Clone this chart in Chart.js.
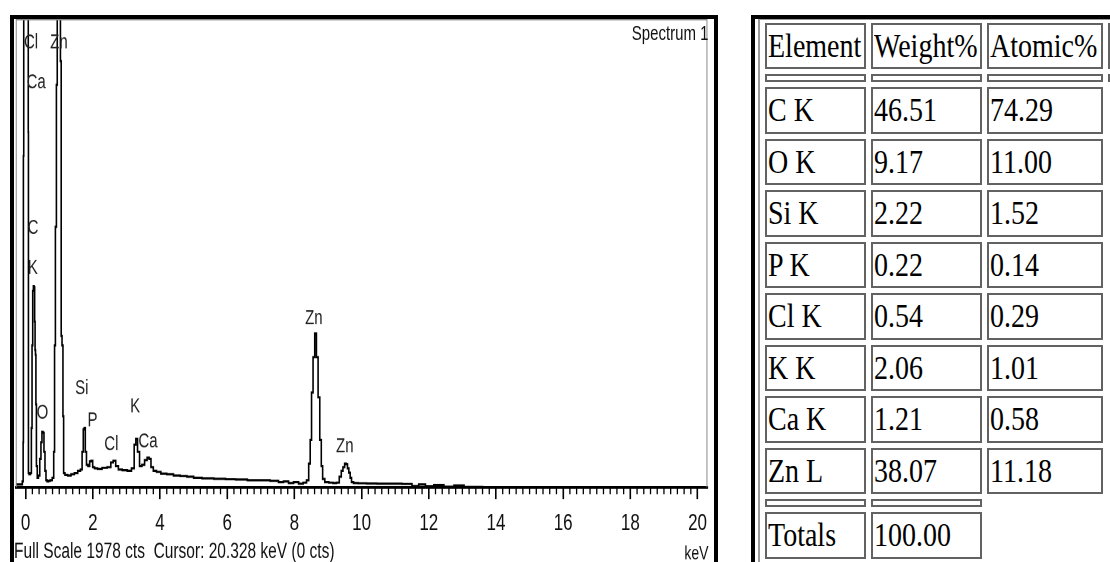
<!DOCTYPE html>
<html><head><meta charset="utf-8">
<script src="https://cdn.jsdelivr.net/npm/chart.js@4.4.1/dist/chart.umd.min.js"></script>
<style>
html,body{margin:0;padding:0;background:#fff;}
body{width:1110px;height:562px;overflow:hidden;position:relative;}
#specFrame{position:absolute;left:10px;top:15px;width:700px;height:600px;border:4px solid #000;}
#chartWrap{position:absolute;left:14px;top:19px;width:700px;height:388px;transform:scaleY(1.4);transform-origin:0 0;}
#tblFrame{position:absolute;left:751px;top:15px;width:500px;height:600px;border-left:4px solid #000;border-top:4px solid #000;}
#tblInner{position:absolute;left:758px;top:19px;width:500px;height:600px;border-left:2px solid #9a9a9a;border-top:1.5px solid #9a9a9a;}
#tbl{position:absolute;left:760px;top:18px;border-collapse:separate;border-spacing:5px;table-layout:fixed;width:413px;font-family:"Liberation Serif","Times New Roman",serif;font-size:28px;color:#000;}
#tbl td{box-sizing:border-box;border:2px solid #626262;padding:0 0 0 1px;vertical-align:middle;white-space:nowrap;overflow:hidden;line-height:28px;}
#tbl td.sp{padding:0;font-size:0;line-height:0;}
#tbl td span{display:inline-block;transform:scaleY(1.24);}
</style></head>
<body>
<div id="specFrame"></div>
<div id="chartWrap"><canvas id="c" width="700" height="388"></canvas></div>
<div id="tblInner"></div>
<div id="tblFrame"></div>
<table id="tbl"></table>
<script>
// ---------- spectrum data (keV, counts) ----------
const energyKeV = [
  -0.29, -0.12, -0.08, -0.07, -0.065, -0.05, 0.0, 0.05, 0.075, 0.08,
  0.085, 0.12, 0.16, 0.18, 0.2, 0.22, 0.24, 0.26, 0.275, 0.285,
  0.3, 0.31, 0.33, 0.36, 0.4, 0.44, 0.47, 0.5, 0.53, 0.56,
  0.59, 0.62, 0.66, 0.7, 0.76, 0.82, 0.85, 0.87, 0.9, 0.93,
  0.95, 0.98, 1.02, 1.05, 1.065, 1.1, 1.12, 1.14, 1.2, 1.3,
  1.4, 1.5, 1.6, 1.66, 1.7, 1.73, 1.76, 1.79, 1.83, 1.88,
  1.93, 1.97, 2.02, 2.08, 2.2, 2.35, 2.5, 2.57, 2.64, 2.72,
  2.8, 2.95, 3.1, 3.2, 3.26, 3.3, 3.36, 3.42, 3.5, 3.58,
  3.65, 3.7, 3.76, 3.84, 3.95, 4.1, 4.3, 4.5, 4.7, 4.9,
  5.1, 5.4, 5.8, 6.1, 6.4, 6.8, 7.1, 7.45, 7.6, 7.75,
  7.9, 8.05, 8.2, 8.32, 8.4, 8.45, 8.49, 8.53, 8.58, 8.63,
  8.68, 8.73, 8.78, 8.82, 8.86, 8.95, 9.1, 9.2, 9.3, 9.37,
  9.42, 9.47, 9.52, 9.56, 9.6, 9.64, 9.68, 9.72, 9.8, 10.0,
  10.3, 10.6, 11.0, 11.4, 11.6, 11.8, 12.0, 12.3, 12.6, 12.9,
  13.2, 14, 16, 18, 20.3
];
const counts = [
  12, 12, 25, 190, 1400, 3500, 6000, 3500, 2500, 1500,
  60, 55, 60, 250, 600, 830, 850, 845, 700, 580,
  560, 350, 90, 40, 50, 120, 190, 235, 230, 150,
  70, 30, 25, 28, 30, 40, 150, 600, 1100, 1700,
  2400, 3800, 3200, 1800, 640, 600, 300, 60, 52, 50,
  55, 60, 70, 75, 150, 245, 250, 150, 95, 90,
  110, 112, 85, 80, 78, 82, 85, 105, 112, 90,
  75, 72, 70, 80, 180, 205, 150, 90, 95, 115,
  125, 120, 85, 70, 65, 58, 55, 50, 48, 45,
  40, 38, 36, 34, 33, 30, 30, 28, 22, 25,
  18, 22, 15, 20, 30, 100, 200, 400, 550, 650,
  550, 380, 200, 90, 35, 22, 20, 18, 20, 45,
  70, 85, 100, 98, 80, 62, 40, 22, 18, 17,
  16, 15, 15, 14, 5, 12, 4, 10, 3, 8,
  2, 0, 0, 0, 0
];
// peak labels
const peakLabels = ['Cl', 'Zn', 'Ca', 'C', 'K', 'O', 'Si', 'P', 'Cl', 'K', 'Ca', 'Zn', 'Zn'];
const labelKeV   = [0.16, 0.99, 0.31, 0.22, 0.21, 0.50, 1.67, 1.99, 2.55, 3.26, 3.64, 8.58, 9.50];
const labelCts   = [1877, 1877, 1710, 1095, 926, 313, 418, 283, 182, 342, 194, 714, 173];
// axis
const xTickValues = [0, 2, 4, 6, 8, 10, 12, 14, 16, 18, 20];
const xMinKeV = -0.295, xMaxKeV = 20.295, fullScaleCts = 1978;
const spectrumName = 'Spectrum 1';
const footerText = 'Full Scale 1978 cts  Cursor: 20.328 keV (0 cts)';
const unitLabel = 'keV';

// ---------- table data ----------
const tableHeaders = ['Element', 'Weight%', 'Atomic%'];
const elements  = ['C K', 'O K', 'Si K', 'P K', 'Cl K', 'K K', 'Ca K', 'Zn L'];
const weightPct = [46.51, 9.17, 2.22, 0.22, 0.54, 2.06, 1.21, 38.07];
const atomicPct = [74.29, 11.00, 1.52, 0.14, 0.29, 1.01, 0.58, 11.18];
const totalsLabel = 'Totals';
const totalWeight = 100.00;

// ---------- build table ----------
(function(){
  const t = document.getElementById('tbl');
  const colW = [101, 111, 116, 60];
  let h = '<colgroup>' + colW.map(w => '<col style="width:' + w + 'px">').join('') + '</colgroup>';
  const cell = (s, ht) => '<td style="height:' + ht + 'px"><span>' + s + '</span></td>';
  const sp = ht => '<td class="sp" style="height:' + ht + 'px"></td>';
  h += '<tr>' + tableHeaders.map(s => cell(s, 46)).join('') + cell('', 46) + '</tr>';
  h += '<tr>' + sp(8) + sp(8) + sp(8) + sp(8) + '</tr>';
  elements.forEach((e, i) => {
    h += '<tr>' + cell(e, 46.5) + cell(weightPct[i].toFixed(2), 46.5) + cell(atomicPct[i].toFixed(2), 46.5) + '</tr>';
  });
  h += '<tr>' + sp(8) + sp(8) + '</tr>';
  h += '<tr>' + cell(totalsLabel, 46.5) + cell(totalWeight.toFixed(2), 46.5) + '</tr>';
  t.innerHTML = h;
})();

// ---------- chart ----------
const FONT = '"Liberation Sans", Arial, Helvetica, sans-serif';
const decor = {
  id: 'decor',
  afterDraw(chart) {
    const {ctx, chartArea: a, scales: {x, y}} = chart;
    ctx.save();
    ctx.strokeStyle = '#8a8a8a'; ctx.lineWidth = 1;
    ctx.beginPath();
    ctx.moveTo(a.left + 0.5, a.bottom); ctx.lineTo(a.left + 0.5, a.top + 0.5);
    ctx.lineTo(a.right - 0.5, a.top + 0.5); ctx.lineTo(a.right - 0.5, a.bottom);
    ctx.stroke();
    ctx.strokeStyle = '#000'; ctx.lineWidth = 1.3;
    for (let i = 0; i <= 100; i++) {
      if (i % 10 === 0) continue;
      const px = x.getPixelForValue(i * 0.2);
      ctx.beginPath(); ctx.moveTo(px, a.bottom); ctx.lineTo(px, a.bottom + 5); ctx.stroke();
    }
    ctx.fillStyle = '#222'; ctx.font = '15px ' + FONT;
    ctx.textAlign = 'center'; ctx.textBaseline = 'middle';
    peakLabels.forEach((s, i) => ctx.fillText(s, x.getPixelForValue(labelKeV[i]), y.getPixelForValue(labelCts[i])));
    ctx.fillStyle = '#111';
    ctx.textBaseline = 'alphabetic';
    ctx.textAlign = 'right'; ctx.font = '15px ' + FONT;
    ctx.fillText(spectrumName, a.right + 1, a.top + 15);
    ctx.textAlign = 'left'; ctx.font = '15.5px ' + FONT;
    ctx.fillText(footerText, 0, chart.height - 3);
    ctx.textAlign = 'right'; ctx.font = '14px ' + FONT;
    ctx.fillText(unitLabel, a.right + 1, chart.height - 2);
    ctx.restore();
  }
};

new Chart(document.getElementById('c'), {
  type: 'line',
  data: {
    datasets: [{
      data: energyKeV.map((e, i) => ({x: e, y: counts[i]})),
      borderColor: '#000', borderWidth: 1.6, pointRadius: 0, stepped: 'middle', fill: false
    }]
  },
  options: {
    responsive: false, animation: false, devicePixelRatio: 2,
    layout: {padding: {left: 0, right: 2, top: 0, bottom: 10.6}},
    plugins: {legend: {display: false}, tooltip: {enabled: false}, title: {display: false}},
    scales: {
      x: {
        type: 'linear', min: xMinKeV, max: xMaxKeV,
        afterBuildTicks: s => { s.ticks = xTickValues.map(v => ({value: v})); },
        ticks: {autoSkip: false, maxRotation: 0, padding: 7, color: '#111',
                font: {family: FONT, size: 17}, callback: v => String(v)},
        grid: {drawOnChartArea: false, drawTicks: true, tickLength: 8.5, color: '#000', lineWidth: 1.6},
        border: {display: true, color: '#000', width: 2}
      },
      y: {type: 'linear', min: 0, max: fullScaleCts, display: false}
    }
  },
  plugins: [decor]
});
</script>
</body></html>
